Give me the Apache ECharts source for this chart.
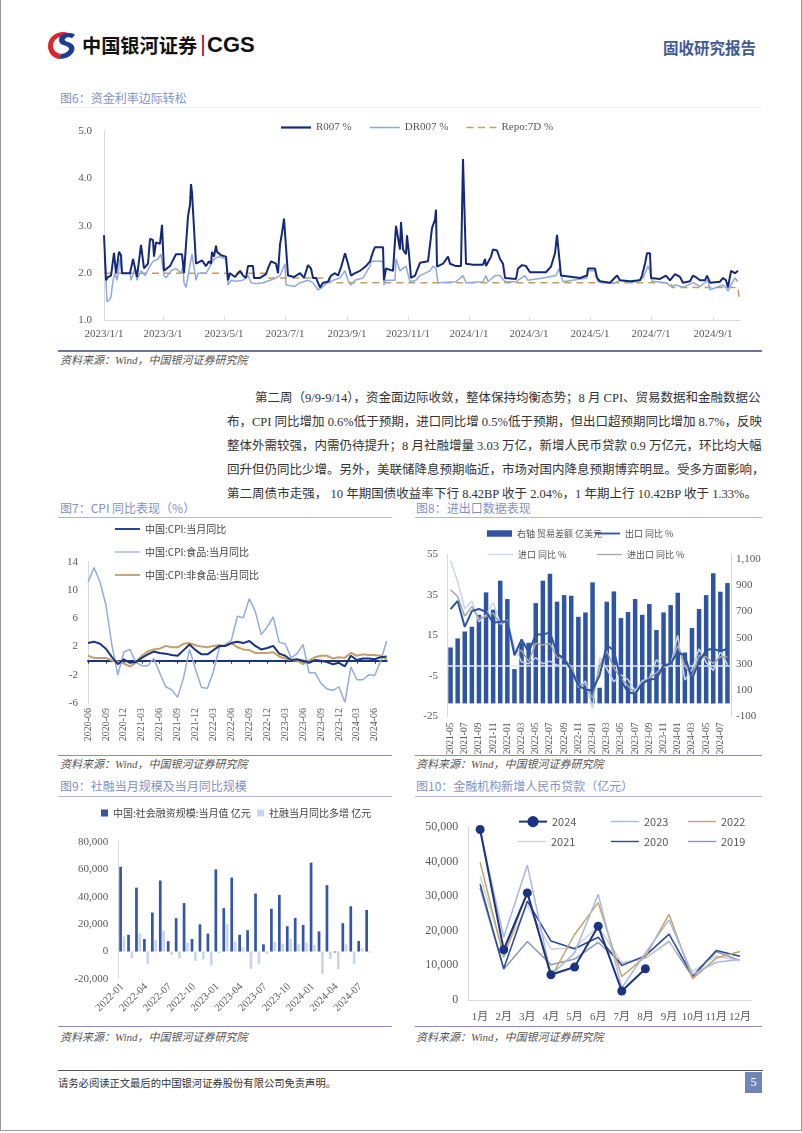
<!DOCTYPE html>
<html><head><meta charset="utf-8">
<script src="https://cdn.jsdelivr.net/npm/echarts/dist/echarts.min.js"></script>
<style>
html,body{margin:0;padding:0;background:#fff;}
#page{position:relative;width:802px;height:1133px;overflow:hidden;background:#fff;}
.a{position:absolute;white-space:nowrap;}
.ttl{font-family:'Noto Sans CJK SC',sans-serif;font-size:12px;color:#8393c6;line-height:16px;}
.src{font-family:'Liberation Serif','Noto Sans CJK SC',serif;font-style:italic;font-size:11px;color:#555;line-height:14px;}
.rule{position:absolute;height:0;}
.pl{position:absolute;left:227px;width:530px;font-family:'Liberation Serif','Noto Sans CJK SC',serif;font-size:12.5px;color:#333;line-height:18px;text-align:justify;text-align-last:justify;white-space:nowrap;}
.ch{position:absolute;}
</style></head>
<body><div id="page">
<div class="a" style="left:0;top:0;width:800px;height:1130px;border-left:1px solid #9a9a9a;border-right:1px solid #9a9a9a;border-bottom:1px solid #9a9a9a;"></div>
<!-- header -->
<svg class="a" style="left:47px;top:31px" width="32" height="29" viewBox="0 0 32 29">
<path d="M17 1 C8 1 1 7 1 15 C1 22 6 27 12 28 L14 23 C9 22 6 19 6 15 C6 9 11 5 18 5 L22 2 Z" fill="#d9262e"/>
<path d="M22 2 C16 2 12 5 12 9 C12 13 16 14 19 15 C22 16 23 18 21 20 C19 22 16 23 14 23 L12 28 C19 28 25 25 27 20 C29 15 25 12 21 11 C18 10 17 9 18 8 C19 6 22 6 25 7 L28 4 C26 2 24 2 22 2 Z" fill="#1c3f94"/>
</svg>
<div class="a" style="left:82px;top:32px;font-family:'Noto Sans CJK SC',sans-serif;font-weight:700;font-size:19.2px;line-height:26px;color:#111;">中国银河证券</div>
<div class="a" style="left:202px;top:35px;width:2px;height:21px;background:#d9262e;"></div>
<div class="a" style="left:207px;top:31px;font-family:'Liberation Sans',sans-serif;font-weight:700;font-size:22px;line-height:28px;color:#111;">CGS</div>
<div class="a" style="left:663px;top:37px;font-family:'Noto Sans CJK SC',serif;font-weight:700;font-size:15.5px;line-height:20px;color:#3f5a95;">固收研究报告</div>

<!-- figure 6 -->
<div class="a ttl" style="left:60px;top:90px;">图6：资金利率边际转松</div>
<div class="rule" style="left:58px;top:107px;width:704px;border-top:1px solid #eef0f6;"></div>
<div id="c1" class="ch" style="left:58px;top:110px;width:704px;height:240px;"></div>
<div class="rule" style="left:58px;top:350px;width:704px;border-top:2px solid #6f73a3;"></div>
<div class="a src" style="left:60px;top:353px;">资料来源：Wind，中国银河证券研究院</div>

<!-- paragraph -->
<div class="pl" style="top:389px;left:255px;width:502px;">第二周（9/9-9/14），资金面边际收敛，整体保持均衡态势；8 月 CPI、贸易数据和金融数据公</div>
<div class="pl" style="top:413px;">布，CPI 同比增加 0.6%低于预期，进口同比增 0.5%低于预期，但出口超预期同比增加 8.7%，反映</div>
<div class="pl" style="top:437px;">整体外需较强，内需仍待提升；8 月社融增量 3.03 万亿，新增人民币贷款 0.9 万亿元，环比均大幅</div>
<div class="pl" style="top:461px;">回升但仍同比少增。另外，美联储降息预期临近，市场对国内降息预期博弈明显。受多方面影响，</div>
<div class="pl" style="top:485px;">第二周债市走强， 10 年期国债收益率下行 8.42BP 收于 2.04%，1 年期上行 10.42BP 收于 1.33%。</div>

<!-- figure 7 & 8 -->
<div class="a ttl" style="left:60px;top:500px;">图7：CPI 同比表现（%）</div>
<div class="a ttl" style="left:416px;top:500px;">图8：进出口数据表现</div>
<div class="rule" style="left:58px;top:517px;width:334px;border-top:1.5px solid #b3b6d6;"></div>
<div class="rule" style="left:415px;top:517px;width:347px;border-top:1.5px solid #b3b6d6;"></div>
<div id="c7" class="ch" style="left:58px;top:520px;width:334px;height:234px;"></div>
<div id="c8" class="ch" style="left:415px;top:520px;width:347px;height:234px;"></div>
<div class="rule" style="left:58px;top:755px;width:334px;border-top:1.5px solid #8a8db7;"></div>
<div class="rule" style="left:415px;top:755px;width:347px;border-top:1.5px solid #8a8db7;"></div>
<div class="a src" style="left:60px;top:757px;">资料来源：Wind，中国银河证券研究院</div>
<div class="a src" style="left:416px;top:757px;">资料来源：Wind，中国银河证券研究院</div>

<!-- figure 9 & 10 -->
<div class="a ttl" style="left:60px;top:778px;">图9：社融当月规模及当月同比规模</div>
<div class="a ttl" style="left:416px;top:778px;">图10：金融机构新增人民币贷款（亿元）</div>
<div class="rule" style="left:58px;top:796px;width:334px;border-top:1.5px solid #b3b6d6;"></div>
<div class="rule" style="left:415px;top:796px;width:347px;border-top:1.5px solid #b3b6d6;"></div>
<div id="c9" class="ch" style="left:58px;top:799px;width:334px;height:226px;"></div>
<div id="c10" class="ch" style="left:415px;top:799px;width:347px;height:226px;"></div>
<div class="rule" style="left:58px;top:1026px;width:334px;border-top:1.5px solid #8a8db7;"></div>
<div class="rule" style="left:415px;top:1026px;width:347px;border-top:1.5px solid #8a8db7;"></div>
<div class="a src" style="left:60px;top:1030px;">资料来源：Wind，中国银河证券研究院</div>
<div class="a src" style="left:416px;top:1030px;">资料来源：Wind，中国银河证券研究院</div>

<!-- footer -->
<div class="rule" style="left:58px;top:1070px;width:705px;border-top:1.5px solid #555;"></div>
<div class="a" style="left:58px;top:1075px;font-family:'Noto Sans CJK SC',serif;font-size:10.3px;line-height:16px;color:#333;">请务必阅读正文最后的中国银河证券股份有限公司免责声明。</div>
<div class="a" style="left:745px;top:1072px;width:17px;height:21px;background:#6f86b9;color:#fff;font-family:'Liberation Serif',serif;font-size:12px;line-height:21px;text-align:center;">5</div>
</div>

<script>
// ---------------- DATA ----------------
// Fig 6: interbank rates (%)
const r007 = [
['2023-01-01',2.80],['2023-01-02',2.80],['2023-01-03',1.85],['2023-01-05',1.92],['2023-01-08',1.95],['2023-01-11',2.43],['2023-01-13',2.00],['2023-01-16',2.45],['2023-01-18',2.38],['2023-01-19',2.00],['2023-01-27',2.00],['2023-01-30',2.30],['2023-02-03',1.92],['2023-02-07',2.60],['2023-02-10',2.10],['2023-02-14',2.20],['2023-02-16',2.72],['2023-02-19',2.70],['2023-02-20',2.35],['2023-02-22',2.65],['2023-02-26',2.62],['2023-02-28',3.02],['2023-03-02',2.05],['2023-03-08',2.15],['2023-03-14',2.40],['2023-03-20',2.40],['2023-03-21',2.42],['2023-03-22',2.00],['2023-03-24',2.00],['2023-03-26',3.20],['2023-03-28',3.45],['2023-03-29',3.88],['2023-03-30',3.70],['2023-04-01',3.70],['2023-04-03',2.20],['2023-04-09',2.27],['2023-04-13',2.15],['2023-04-16',2.25],['2023-04-18',2.20],['2023-04-19',2.45],['2023-04-21',2.35],['2023-04-23',2.58],['2023-04-24',2.45],['2023-04-28',2.38],['2023-05-03',2.35],['2023-05-05',1.85],['2023-05-07',2.00],['2023-05-12',1.92],['2023-05-17',2.05],['2023-05-20',1.95],['2023-05-23',1.90],['2023-05-25',2.15],['2023-05-30',2.15],['2023-05-31',1.90],['2023-06-06',1.90],['2023-06-12',1.98],['2023-06-14',2.10],['2023-06-17',2.25],['2023-06-22',2.20],['2023-06-24',2.00],['2023-06-26',2.60],['2023-06-28',2.85],['2023-06-30',3.15],['2023-07-02',3.15],['2023-07-04',1.95],['2023-07-10',1.92],['2023-07-16',2.00],['2023-07-20',1.90],['2023-07-24',2.17],['2023-07-27',2.10],['2023-07-29',1.90],['2023-08-01',1.90],['2023-08-05',1.70],['2023-08-08',1.80],['2023-08-13',1.82],['2023-08-16',1.95],['2023-08-20',2.00],['2023-08-23',1.95],['2023-08-26',2.12],['2023-08-30',2.42],['2023-09-02',2.20],['2023-09-05',1.95],['2023-09-09',2.00],['2023-09-14',2.05],['2023-09-17',2.10],['2023-09-20',2.15],['2023-09-24',2.25],['2023-09-27',2.45],['2023-09-29',2.55],['2023-10-07',2.55],['2023-10-08',1.85],['2023-10-10',2.10],['2023-10-17',2.05],['2023-10-19',2.05],['2023-10-20',3.00],['2023-10-22',3.00],['2023-10-24',2.50],['2023-10-25',3.08],['2023-10-27',2.50],['2023-10-30',2.40],['2023-10-31',2.80],['2023-11-02',2.40],['2023-11-04',1.90],['2023-11-08',1.95],['2023-11-13',2.22],['2023-11-21',2.25],['2023-11-23',2.60],['2023-11-25',2.95],['2023-11-28',3.13],['2023-11-29',3.34],['2023-11-30',2.14],['2023-12-06',2.20],['2023-12-11',2.35],['2023-12-13',2.20],['2023-12-19',2.15],['2023-12-24',2.15],['2023-12-26',4.41],['2023-12-29',2.20],['2024-01-05',2.18],['2024-01-15',2.18],['2024-01-17',2.30],['2024-01-18',2.15],['2024-01-23',2.35],['2024-01-25',2.50],['2024-01-29',2.48],['2024-02-01',2.30],['2024-02-04',2.20],['2024-02-06',1.90],['2024-02-17',1.88],['2024-02-19',2.10],['2024-02-23',2.17],['2024-02-27',2.15],['2024-03-02',2.02],['2024-03-18',2.02],['2024-03-23',2.14],['2024-03-27',2.42],['2024-03-29',2.81],['2024-03-31',2.81],['2024-04-02',1.95],['2024-04-21',1.90],['2024-04-28',1.95],['2024-04-29',2.10],['2024-05-06',2.10],['2024-05-08',1.90],['2024-05-11',1.83],['2024-05-21',1.80],['2024-05-28',1.95],['2024-05-31',1.85],['2024-06-10',1.83],['2024-06-20',1.85],['2024-06-22',1.95],['2024-06-25',2.20],['2024-06-27',2.42],['2024-06-30',2.42],['2024-07-01',1.90],['2024-07-10',1.88],['2024-07-16',1.95],['2024-07-20',1.85],['2024-07-25',1.98],['2024-07-30',1.92],['2024-08-02',1.80],['2024-08-09',1.83],['2024-08-12',1.95],['2024-08-16',1.90],['2024-08-19',1.85],['2024-08-24',1.85],['2024-08-26',1.95],['2024-08-29',1.80],['2024-09-08',1.82],['2024-09-11',1.90],['2024-09-14',1.85],['2024-09-16',1.70],['2024-09-18',1.70],['2024-09-19',2.05],['2024-09-23',2.00],['2024-09-24',1.98],['2024-09-26',2.05]
];
const dr007 = [
['2023-01-01',2.35],['2023-01-02',2.30],['2023-01-04',1.40],['2023-01-07',1.45],['2023-01-08',1.50],['2023-01-10',1.85],['2023-01-12',2.00],['2023-01-14',1.85],['2023-01-17',2.30],['2023-01-18',2.30],['2023-01-19',2.00],['2023-01-27',2.00],['2023-01-28',1.85],['2023-02-01',2.10],['2023-02-03',1.85],['2023-02-07',2.05],['2023-02-11',1.95],['2023-02-16',2.15],['2023-02-19',2.25],['2023-02-24',2.30],['2023-02-27',2.40],['2023-03-02',1.95],['2023-03-04',1.90],['2023-03-09',2.05],['2023-03-14',2.10],['2023-03-19',2.00],['2023-03-21',2.15],['2023-03-22',1.80],['2023-03-24',1.70],['2023-03-26',1.70],['2023-03-27',2.05],['2023-03-30',2.40],['2023-04-01',2.40],['2023-04-03',1.85],['2023-04-05',2.00],['2023-04-13',2.00],['2023-04-16',2.10],['2023-04-21',2.30],['2023-04-26',2.35],['2023-05-03',2.30],['2023-05-05',1.75],['2023-05-08',1.85],['2023-05-13',1.83],['2023-05-20',1.85],['2023-05-25',1.95],['2023-05-28',1.80],['2023-06-02',1.78],['2023-06-09',1.80],['2023-06-16',1.85],['2023-06-22',1.90],['2023-06-26',1.95],['2023-07-01',2.20],['2023-07-02',1.75],['2023-07-11',1.72],['2023-07-16',1.80],['2023-07-24',1.85],['2023-07-29',1.80],['2023-08-03',1.65],['2023-08-06',1.68],['2023-08-11',1.78],['2023-08-18',1.85],['2023-08-25',1.90],['2023-08-30',2.05],['2023-09-02',1.85],['2023-09-05',1.75],['2023-09-09',1.85],['2023-09-17',1.90],['2023-09-24',2.15],['2023-09-25',2.25],['2023-10-07',2.25],['2023-10-08',1.75],['2023-10-10',1.85],['2023-10-19',1.85],['2023-10-20',2.30],['2023-10-24',2.05],['2023-10-27',2.10],['2023-10-30',2.15],['2023-11-03',1.82],['2023-11-09',1.85],['2023-11-13',1.95],['2023-11-23',2.05],['2023-11-26',2.15],['2023-11-29',2.10],['2023-12-01',1.80],['2023-12-19',1.82],['2023-12-26',1.95],['2023-12-29',1.80],['2024-01-15',1.82],['2024-01-18',1.95],['2024-01-20',1.82],['2024-01-27',1.95],['2024-02-01',1.95],['2024-02-06',1.82],['2024-02-17',1.82],['2024-02-26',1.95],['2024-02-29',1.85],['2024-03-15',1.90],['2024-03-28',1.95],['2024-03-31',2.10],['2024-04-04',1.82],['2024-04-28',1.90],['2024-04-29',2.05],['2024-05-06',2.05],['2024-05-09',1.82],['2024-05-17',1.80],['2024-05-24',1.78],['2024-05-31',1.85],['2024-06-13',1.80],['2024-06-23',1.90],['2024-06-28',2.15],['2024-06-30',2.05],['2024-07-02',1.83],['2024-07-16',1.80],['2024-07-21',1.72],['2024-07-26',1.75],['2024-08-02',1.70],['2024-08-12',1.80],['2024-08-19',1.72],['2024-08-27',1.85],['2024-08-29',1.65],['2024-09-11',1.75],['2024-09-14',1.70],['2024-09-16',1.62],['2024-09-19',1.75],['2024-09-23',1.90],['2024-09-26',1.82]
];
const repo7d = [
['2023-01-01',2.0],['2023-06-12',2.0],['2023-06-13',1.9],['2023-08-14',1.9],['2023-08-15',1.8],['2024-07-21',1.8],['2024-07-22',1.7],['2024-09-26',1.7],['2024-09-27',1.5]
];
const fig6Ticks = ['2023-01-01','2023-03-01','2023-05-01','2023-07-01','2023-09-01','2023-11-01','2024-01-01','2024-03-01','2024-05-01','2024-07-01','2024-09-01'];

// Fig 7: CPI YoY (%), 2020-06 .. 2024-08
const cpi = [2.5,2.7,2.4,1.7,0.5,-0.5,0.2, -0.3,-0.2,0.4,0.9,1.3,1.1,1.0,0.8,0.7,1.5,2.3,1.5, 0.9,0.9,1.5,2.1,2.1,2.5,2.7,2.5,2.8,2.1,1.6,1.8, 2.1,1.0,0.7,0.1,0.2,0.0,-0.3,0.1,0.0,-0.2,-0.5,-0.3, -0.8,0.7,0.1,0.3,0.3,0.2,0.5,0.6];
const cpiFood = [11.1,13.2,11.2,7.9,2.2,-2.0,1.2, 1.6,-0.2,-0.7,-0.7,0.3,-1.7,-3.7,-4.1,-5.2,-2.4,1.6,-1.2, -3.8,-3.9,-1.5,1.9,2.3,2.9,6.3,6.1,8.8,7.0,3.7,4.8, 6.2,2.6,2.4,0.4,1.0,2.3,-1.7,-1.7,-3.2,-4.0,-4.2,-3.7, -5.9,-0.9,-2.7,-2.7,-2.0,-2.1,0.0,2.8];
const cpiNonFood = [0.7,0.4,0.4,0.4,0.0,-0.1,-0.4, -0.8,-0.3,0.7,1.3,1.6,1.7,2.1,1.9,1.9,2.4,2.5,2.2, 2.0,1.9,2.1,2.2,2.1,2.5,1.9,1.6,1.5,1.1,1.1,1.1, 1.2,0.6,0.3,0.1,0.0,-0.5,0.0,0.5,0.7,0.7,0.3,0.5, 0.4,1.1,0.7,0.9,0.8,0.8,0.7,0.2];
const fig7YTicks = [-6,-2,2,6,10,14];

// Fig 8: trade, 2021-05 .. 2024-08
const tradeBalance = [426,495,548,584,675,846,714,935,795,261,464,462,764,935,988,775,825,820,660,693,922,119,775,853,650,696,795,675,757,559,693,749,843,388,574,719,825,991,851,917];
const exportYoY = [28,32,19.2,27,28,26.6,21.2,21.7,22,5.2,13,6.8,15.4,15.4,16.5,6,3.5,-2.2,-9.7,-11.8,-12,-4.7,10.1,7.7,-7.2,-13,-13.8,-8.8,-6.7,-6.4,0.2,1,6.8,5,-6.4,1.9,7.7,8.5,7.2,8.5];
const importYoY = [52,41.5,28.3,31.9,21.7,25,31.2,20.9,22.5,9.3,1.9,1,4,1,2.3,0.3,0.3,-0.7,-10.6,-7.5,-21,4,-1.4,-7.9,-4.5,-6.8,-12.4,-7.3,-6.2,3,-0.6,0.2,15,-7,-1.9,8.4,1.8,-2.3,7.2,0.5];
const totalYoY = [37.5,34.2,24.5,29.2,23.3,24.3,26,20.5,22,7,7.6,2.1,11.1,10.3,11,4.1,3.4,-0.4,-9.5,-9.1,-16,0,7.4,-1.1,-6.2,-10,-13.6,-8.2,-6.2,-3.4,-0.6,1,10,0,-5.1,5.1,4.4,1.2,4.5,4.4];
const fig8LeftTicks = [-25,-5,15,35,55];
const fig8RightTicks = [-100,100,300,500,700,900,1100];

// Fig 9: social financing (亿元), 2022-01 .. 2024-08
const tsfMonthly = [61726,12170,46531,9102,28399,51733,7561,24323,35295,9079,19837,13058, 59840,31600,53868,12249,15556,42265,5282,31213,41271,18441,24505,19326, 64734,14652,48344,-658,20619,33000,7708,30323];
const tsfYoY = [11000,-4800,13300,-9000,8500,15300,-2400,-4800,6500,-6800,-5600,-10200, -1200,19900,7300,2900,-12600,-9200,-1700,7000,5600,9200,5300,6500, 4800,-16200,-5300,-12800,5300,-9000,2400,-700];

// Fig 10: new RMB loans (亿元)
const monthsCN = ['1月','2月','3月','4月','5月','6月','7月','8月','9月','10月','11月','12月'];
const loans2024 = [49200,14500,30900,7300,9500,21300,2600,9000];
const loans2023 = [49000,18100,38900,7188,13600,30500,3459,13600,23100,7384,10900,11700];
const loans2022 = [39800,12300,31300,6454,18900,28100,6790,12500,24700,6152,12100,14000];
const loans2021 = [35800,13600,27300,14700,15000,21200,10800,12200,16600,8262,12700,11300];
const loans2020 = [33400,9057,28500,17000,14800,18100,9927,12800,19000,6898,14300,12600];
const loans2019 = [32300,8858,16900,10200,11800,16600,10600,12100,16900,6613,13900,11400];

// ---------------- HELPERS ----------------
const SERIF = "'Liberation Serif','Noto Sans CJK SC',serif";
const SANS = "'Noto Sans CJK SC','Noto Sans',sans-serif";
const GRAY = '#595959';
const AX = '#d9d9d9';
const ICON_LINE2 = 'path://M0 0H30V2.2H0Z';
const ICON_LINE1 = 'path://M0 0H30V1.5H0Z';
const ICON_DASH = 'path://M0 0H7V1.6H0Z M11.5 0H18.5V1.6H11.5Z M23 0H30V1.6H23Z';
const ICON_BAR = 'path://M0 0H25V6.5H0Z';
const ICON_SQ = 'path://M0 0H6V6H0Z';
function pd(s){const a=s.split('-').map(Number);return new Date(a[0],a[1]-1,a[2]).getTime();}
function monthList(from,to){const out=[];let [y,m]=from.split('-').map(Number);const [ty,tm]=to.split('-').map(Number);
  while(y<ty||(y===ty&&m<=tm)){out.push(y+'-'+String(m).padStart(2,'0'));m++;if(m>12){m=1;y++;}}return out;}
const ts = arr => arr.map(p=>[pd(p[0]),p[1]]);
const thousands = v => v.toLocaleString('en-US');
function safe(fn){try{fn();}catch(e){console.error(e);}}

// ---------------- FIG 6 ----------------
safe(function(){
  const ch = echarts.init(document.getElementById('c1'));
  const tickVals = fig6Ticks.map(pd);
  ch.setOption({
    animation:false,
    grid:{left:46,top:21,width:636,height:189.6,outerBoundsMode:'none'},
    legend:{left:223,top:12,padding:0,itemWidth:30,itemHeight:14,itemGap:18,
      textStyle:{fontFamily:SERIF,fontSize:11,color:GRAY},
      data:[{name:'R007 %',icon:ICON_LINE2},{name:'DR007 %',icon:ICON_LINE1},{name:'Repo:7D %',icon:ICON_DASH}]},
    xAxis:{type:'value',min:pd('2023-01-01'),max:pd('2024-09-28'),
      axisLine:{show:true,onZero:false,lineStyle:{color:AX}},
      axisTick:{show:true,inside:true,length:4,lineStyle:{color:AX},customValues:tickVals},
      axisLabel:{customValues:tickVals,fontFamily:SERIF,fontSize:11,color:GRAY,margin:8,
        formatter:v=>{const d=new Date(v);return d.getFullYear()+'/'+(d.getMonth()+1)+'/'+d.getDate();}},
      splitLine:{show:false}},
    yAxis:{type:'value',min:1,max:5,interval:1,
      axisLine:{show:true,lineStyle:{color:AX}},axisTick:{show:false},splitLine:{show:false},
      axisLabel:{fontFamily:SERIF,fontSize:11,color:GRAY,margin:12,formatter:v=>v.toFixed(1)}},
    series:[
      {name:'R007 %',type:'line',data:ts(r007),symbol:'none',lineStyle:{color:'#15297a',width:2},itemStyle:{color:'#15297a'},z:4},
      {name:'DR007 %',type:'line',data:ts(dr007),symbol:'none',lineStyle:{color:'#8eaadc',width:1.5},itemStyle:{color:'#8eaadc'},z:3},
      {name:'Repo:7D %',type:'line',data:ts(repo7d),symbol:'none',lineStyle:{color:'#c79c62',width:1.5,type:[7,5]},itemStyle:{color:'#c79c62'},z:2}
    ]
  });
});

// ---------------- FIG 7 ----------------
safe(function(){
  const ch = echarts.init(document.getElementById('c7'));
  const cats = monthList('2020-06','2024-08');
  ch.setOption({
    animation:false,
    grid:{left:30,top:42,width:298.7,height:141,outerBoundsMode:'none'},
    legend:{orient:'vertical',left:57,top:4,padding:0,itemWidth:25,itemHeight:14,itemGap:13,
      textStyle:{fontFamily:SANS,fontSize:10,color:'#444'},
      data:[{name:'中国:CPI:当月同比',icon:ICON_LINE2},{name:'中国:CPI:食品:当月同比',icon:ICON_LINE1},{name:'中国:CPI:非食品:当月同比',icon:ICON_LINE2}]},
    xAxis:[
      {type:'category',data:cats,boundaryGap:false,position:'bottom',
        axisLine:{show:false,onZero:false},axisTick:{show:false},
        axisLabel:{rotate:90,interval:2,fontFamily:SERIF,fontSize:10,color:GRAY,margin:5}},
      {type:'category',data:cats,boundaryGap:false,position:'bottom',z:1,
        axisLine:{show:true,onZero:true,lineStyle:{color:'#1b3383',width:2}},
        axisTick:{show:true,interval:2,length:3,lineStyle:{color:'#1b3383'}},
        axisLabel:{show:false}}
    ],
    yAxis:{type:'value',min:-6,max:14,
      axisLine:{show:true,lineStyle:{color:AX}},axisTick:{show:false},splitLine:{show:false},
      axisLabel:{customValues:fig7YTicks,fontFamily:SERIF,fontSize:11,color:GRAY,margin:10}},
    series:[
      {name:'中国:CPI:当月同比',type:'line',data:cpi,symbol:'none',lineStyle:{color:'#1b3383',width:2},itemStyle:{color:'#1b3383'},z:5},
      {name:'中国:CPI:食品:当月同比',type:'line',data:cpiFood,symbol:'none',lineStyle:{color:'#93acdc',width:1.5},itemStyle:{color:'#93acdc'},z:3},
      {name:'中国:CPI:非食品:当月同比',type:'line',data:cpiNonFood,symbol:'none',lineStyle:{color:'#c2a066',width:2},itemStyle:{color:'#c2a066'},z:4}
    ]
  });
});

// ---------------- FIG 8 ----------------
safe(function(){
  const ch = echarts.init(document.getElementById('c8'));
  const cats = monthList('2021-05','2024-08');
  const lt = {fontFamily:SANS,fontSize:9,color:'#555'};
  const lg = (name,icon,left,top) => ({left:left,top:top,padding:0,itemWidth:25,itemHeight:14,textStyle:lt,data:[{name:name,icon:icon}]});
  ch.setOption({
    animation:false,
    grid:{left:32,top:34.3,width:284,height:162.2,outerBoundsMode:'none'},
    legend:[
      lg('右轴 贸易差额 亿美元',ICON_BAR,72,9),
      lg('出口 同比 %',ICON_LINE2,180,9),
      lg('进口 同比 %',ICON_LINE1,73,30),
      lg('进出口 同比 %',ICON_LINE1,182,30)
    ],
    xAxis:[
      {type:'category',data:cats,position:'bottom',
        axisLine:{show:false,onZero:false},axisTick:{show:false},
        axisLabel:{rotate:90,interval:1,fontFamily:SERIF,fontSize:9.5,color:GRAY,margin:6}},
      {type:'category',data:cats,position:'bottom',z:3,
        axisLine:{show:true,onZero:true,onZeroAxisIndex:0,lineStyle:{color:'#dfe6f3',width:1.5}},
        axisTick:{show:false},axisLabel:{show:false}}
    ],
    yAxis:[
      {type:'value',min:-25,max:55,position:'left',
        axisLine:{show:true,lineStyle:{color:AX}},axisTick:{show:false},splitLine:{show:false},
        axisLabel:{customValues:fig8LeftTicks,fontFamily:SERIF,fontSize:11,color:GRAY,margin:9}},
      {type:'value',min:-100,max:1136,position:'right',
        axisLine:{show:true,lineStyle:{color:AX}},axisTick:{show:false},splitLine:{show:false},
        axisLabel:{customValues:fig8RightTicks,fontFamily:SERIF,fontSize:11,color:GRAY,margin:5}}
    ],
    series:[
      {name:'右轴 贸易差额 亿美元',type:'bar',yAxisIndex:1,data:tradeBalance,barWidth:4.5,itemStyle:{color:'#2e55a3'},z:2},
      {name:'出口 同比 %',type:'line',data:exportYoY,symbol:'none',lineStyle:{color:'#2e55a3',width:2},itemStyle:{color:'#2e55a3'},z:6},
      {name:'进口 同比 %',type:'line',data:importYoY,symbol:'none',lineStyle:{color:'#c8d5ee',width:1.5},itemStyle:{color:'#c8d5ee'},z:5},
      {name:'进出口 同比 %',type:'line',data:totalYoY,symbol:'none',lineStyle:{color:'#a5a5a5',width:1.5},itemStyle:{color:'#a5a5a5'},z:5}
    ]
  });
});

// ---------------- FIG 9 ----------------
safe(function(){
  const ch = echarts.init(document.getElementById('c9'));
  const cats = monthList('2022-01','2024-08');
  const lt = {fontFamily:SANS,fontSize:10,color:'#444'};
  ch.setOption({
    animation:false,
    grid:{left:60.3,top:42.7,width:254,height:137.3,outerBoundsMode:'none'},
    legend:[
      {left:43,top:9,padding:0,itemWidth:7,itemHeight:14,textStyle:lt,data:[{name:'中国:社会融资规模:当月值 亿元',icon:ICON_SQ}]},
      {left:199,top:9,padding:0,itemWidth:7,itemHeight:14,textStyle:lt,data:[{name:'社融当月同比多增 亿元',icon:ICON_SQ}]}
    ],
    xAxis:{type:'category',data:cats,
      axisLine:{show:false,onZero:false},axisTick:{show:false},
      axisLabel:{rotate:45,interval:2,fontFamily:SERIF,fontSize:10.5,color:GRAY,margin:6}},
    yAxis:{type:'value',min:-20000,max:80000,interval:20000,
      axisLine:{show:true,lineStyle:{color:AX}},axisTick:{show:false},splitLine:{show:false},
      axisLabel:{fontFamily:SERIF,fontSize:11,color:GRAY,margin:10,formatter:thousands}},
    series:[
      {name:'中国:社会融资规模:当月值 亿元',type:'bar',data:tsfMonthly,barWidth:2.7,barGap:'25%',itemStyle:{color:'#3356a6'}},
      {name:'社融当月同比多增 亿元',type:'bar',data:tsfYoY,barWidth:2.7,barGap:'25%',itemStyle:{color:'#c9d5ee'}}
    ]
  });
});

// ---------------- FIG 10 ----------------
safe(function(){
  const ch = echarts.init(document.getElementById('c10'));
  const lt = {fontFamily:SANS,fontSize:11,color:GRAY};
  const mk = (name,icon,left,top) => ({left:left,top:top,padding:0,itemWidth:28,itemHeight:14,textStyle:lt,data:[icon?{name:name,icon:icon}:{name:name}]});
  const line = (name,data,color,w,z) => ({name:name,type:'line',data:data,symbol:'none',lineStyle:{color:color,width:w},itemStyle:{color:color},z:z});
  ch.setOption({
    animation:false,
    grid:{left:53.3,top:27.7,width:283.4,height:173.3,outerBoundsMode:'none'},
    legend:[
      mk('2024',null,103,17), mk('2023',ICON_LINE1,196,17), mk('2022',ICON_LINE1,273,17),
      mk('2021',ICON_LINE1,103,37), mk('2020',ICON_LINE1,196,37), mk('2019',ICON_LINE1,273,37)
    ],
    xAxis:{type:'category',data:monthsCN,boundaryGap:true,
      axisLine:{show:true,lineStyle:{color:AX}},axisTick:{show:false},
      axisLabel:{interval:0,fontFamily:SERIF,fontSize:11,color:GRAY,margin:12}},
    yAxis:{type:'value',min:0,max:50000,interval:10000,
      axisLine:{show:true,lineStyle:{color:AX}},axisTick:{show:false},splitLine:{show:false},
      axisLabel:{fontFamily:SERIF,fontSize:12,color:GRAY,margin:10,formatter:thousands}},
    series:[
      line('2019',loans2019,'#8d9ab7',1.5,2),
      line('2020',loans2020,'#2a489b',1.5,3),
      line('2021',loans2021,'#cfd1d9',1.5,2),
      line('2022',loans2022,'#c4a46a',1.5,3),
      line('2023',loans2023,'#a9b8e2',1.5,3),
      {name:'2024',type:'line',data:loans2024,symbol:'circle',symbolSize:9,showSymbol:true,
        lineStyle:{color:'#1b3383',width:2},itemStyle:{color:'#1b3383'},z:6}
    ]
  });
});
</script>
</body></html>
